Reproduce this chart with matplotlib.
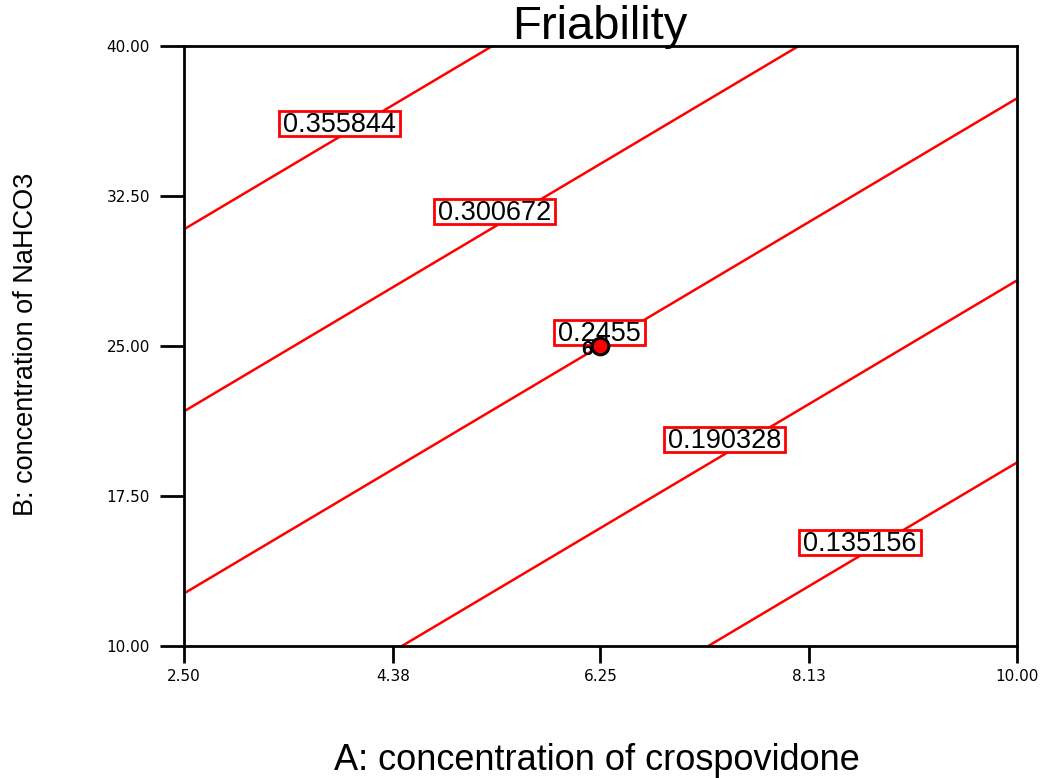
import numpy as np
import matplotlib
matplotlib.use("Agg")
import matplotlib.pyplot as plt
from matplotlib.patches import Rectangle

# fitted linear model in coded units: friability = b0 + bA*A + bB*B
b0 = 0.2455
bA = -0.075
bB = 0.0909

a_range = (2.5, 10.0)
b_range = (10.0, 40.0)
x_ticks = [2.50, 4.38, 6.25, 8.13, 10.00]
y_ticks = [10.00, 17.50, 25.00, 32.50, 40.00]

levels = [0.135156, 0.190328, 0.2455, 0.300672, 0.355844]
label_pos = [(8.59, 15.1), (7.37, 20.25), (6.24, 25.6), (5.30, 31.65), (3.90, 36.05)]

center_a = [6.25]
center_b = [25.0]
center_n = ["6"]

a = np.linspace(*a_range, 200)
b = np.linspace(*b_range, 200)
A, B = np.meshgrid(a, b)
xa = (A - 6.25) / 3.75
xb = (B - 25.0) / 15.0
Z = b0 + bA * xa + bB * xb

fig = plt.figure(figsize=(10.45, 7.78), dpi=100)
ax = fig.add_axes([0.176, 0.1697, 0.797, 0.7712])

ax.contour(A, B, Z, levels=levels, colors="red", linewidths=1.8, zorder=2)

labels = []
for lev, (px, py) in zip(levels, label_pos):
    t = ax.text(px, py, f"{lev:g}", ha="center", va="center", fontsize=19.5,
                family="Liberation Sans", zorder=5)
    labels.append(t)

ax.plot(center_a, center_b, "o", ms=12, mfc="red", mec="black", mew=2.2, zorder=7)
for ca, cb, n in zip(center_a, center_b, center_n):
    ax.text(ca - 0.07, cb - 0.2, n, ha="right", va="center", fontsize=15,
            fontweight="bold", family="Liberation Sans", zorder=6)

ax.set_xlim(*a_range)
ax.set_ylim(*b_range)
ax.set_xticks(x_ticks)
ax.set_yticks(y_ticks)
ax.set_xticklabels([f"{t:.2f}" for t in x_ticks])
ax.set_yticklabels([f"{t:.2f}" for t in y_ticks])
ax.tick_params(direction="out", width=2, labelsize=11)
ax.tick_params(axis="x", length=12.5, pad=4)
ax.tick_params(axis="y", length=17.5, pad=7)
for s in ax.spines.values():
    s.set_linewidth(2)

fig.text(0.574, 0.965, "Friability", fontsize=34, family="Liberation Sans",
         ha="center", va="center")
fig.text(0.571, 0.023, "A: concentration of crospovidone", fontsize=26,
         family="Liberation Sans", ha="center", va="center")
fig.text(0.025, 0.557, "B: concentration of NaHCO3", fontsize=19.5,
         family="Liberation Sans", ha="center", va="center", rotation=90)

# tight white boxes with red outline behind the contour labels
fig.canvas.draw()
inv = ax.transData.inverted()
for t in labels:
    ext = t.get_window_extent()
    cx, cy = (ext.x0 + ext.x1) / 2, (ext.y0 + ext.y1) / 2 + 1.5
    w, h = ext.width + 8, 25
    (x0, y0), (x1, y1) = inv.transform([(cx - w / 2, cy - h / 2), (cx + w / 2, cy + h / 2)])
    ax.add_patch(Rectangle((x0, y0), x1 - x0, y1 - y0, fc="white", ec="red",
                           lw=2, zorder=4))

fig.savefig("out.png", dpi=100)
